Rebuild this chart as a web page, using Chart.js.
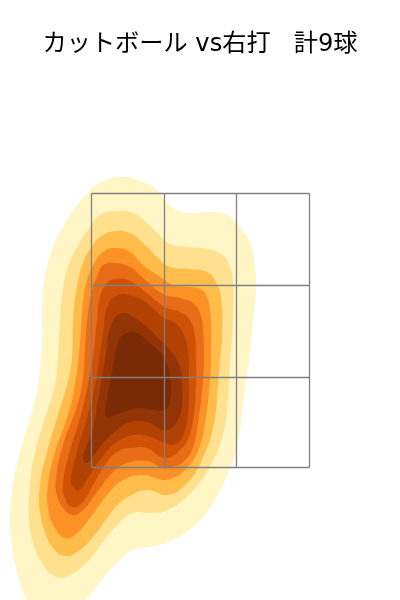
<!DOCTYPE html>
<html>
<head>
<meta charset="utf-8">
<style>html,body{margin:0;padding:0;background:#fff}canvas{display:block}</style>
<script src="https://cdn.jsdelivr.net/npm/chart.js@4"></script>
</head>
<body>
<canvas id="c" width="400" height="600"></canvas>
<script>
const titleText = 'カットボール vs右打   計9球';
const gridX = [91.5,164.5,236.5,309.5];
const gridY = [193.5,285.5,377.5,467.5];
const levelColors = ['#fff5c5','#fee08e','#febc4b','#fc9126','#e96c16','#d05207','#b24204','#933406','#7a2a04'];
const level1 = [[122,177],[143,182],[157,190],[173,208],[190,213],[210,212],[227,215],[240,227],[250,243],[255,267],[256,290],[253,320],[250,353],[246,380],[242,413],[237,447],[228,473],[215,500],[197,523],[173,540],[150,547],[133,550],[117,563],[100,582],[85,600],[72,614],[40,614],[27,600],[20,582],[13,552],[10,518],[13,485],[20,452],[30,418],[38,385],[42,337],[42,303],[45,277],[53,247],[67,220],[83,198],[100,183]];
const level2 = [[117,211],[133,213],[147,223],[160,236],[170,244],[187,247],[207,249],[222,255],[230,267],[233,283],[233,310],[232,337],[230,365],[228,397],[224,430],[212,463],[193,490],[168,510],[150,513],[133,513],[117,525],[103,542],[87,562],[70,575],[57,577],[43,565],[33,542],[29,518],[30,485],[35,452],[45,418],[55,385],[58,357],[60,320],[62,297],[67,270],[77,247],[90,227],[100,215]];
const level3 = [[117,231],[130,233],[143,243],[158,258],[170,267],[190,269],[207,272],[215,280],[221,297],[222,337],[220,360],[218,385],[214,423],[202,460],[187,483],[168,495],[147,490],[128,497],[113,510],[97,532],[80,550],[65,556],[53,548],[45,532],[40,512],[40,485],[47,452],[57,418],[67,385],[72,357],[73,320],[77,287],[83,263],[93,245],[103,235]];
const level4 = [[115,248],[130,252],[143,265],[162,278],[173,285],[190,287],[202,290],[208,300],[211,320],[211,350],[210,380],[205,423],[197,453],[183,472],[173,478],[163,480],[143,475],[123,480],[107,495],[90,518],[75,535],[65,538],[55,528],[48,508],[48,485],[55,452],[67,418],[75,385],[80,343],[83,303],[88,277],[95,262],[103,252]];
const level5 = [[115,263],[130,267],[143,278],[163,294],[180,298],[193,303],[200,313],[203,330],[204,355],[203,380],[198,423],[192,450],[182,463],[172,467],[163,468],[147,461],[127,463],[113,472],[97,492],[83,510],[73,515],[63,508],[57,495],[56,478],[63,445],[75,412],[82,385],[85,350],[88,313],[93,287],[97,277],[103,265]];
const level6 = [[115,279],[128,280],[143,290],[165,307],[180,312],[190,320],[195,337],[196,360],[196,385],[193,420],[187,442],[180,450],[173,456],[163,458],[147,448],[130,448],[120,450],[107,462],[93,485],[82,503],[72,507],[65,498],[63,485],[68,458],[80,418],[88,385],[93,357],[97,320],[100,297],[107,283]];
const level7 = [[118,295],[133,296],[147,303],[163,317],[175,323],[183,333],[188,350],[189,380],[188,413],[182,438],[173,445],[165,443],[147,436],[133,435],[117,442],[103,456],[88,478],[79,490],[73,487],[71,478],[77,452],[87,418],[95,385],[98,367],[103,333],[108,305]];
const level8 = [[123,313],[133,317],[147,327],[157,337],[170,350],[180,367],[182,385],[182,407],[180,415],[173,427],[163,430],[147,422],[130,422],[117,430],[103,443],[92,458],[87,463],[83,457],[87,445],[92,433],[98,400],[105,360],[112,323]];
const level9 = [[130,332],[137,333],[150,343],[165,360],[171,383],[170,400],[168,407],[162,411],[140,408],[123,412],[110,417],[106,415],[107,400],[113,367],[120,338]];
const levels = [level1,level2,level3,level4,level5,level6,level7,level8,level9];

const toPts = a => [a[a.length-1]].concat(a, a.slice(0,2)).map(p => ({x:p[0], y:p[1]}));
const gridStyle = {showLine:true, fill:false, tension:0, borderColor:'#808080', borderWidth:1.3, pointRadius:0};
const datasets = [];
gridX.forEach(x => datasets.push({...gridStyle, data:[{x, y:gridY[0]},{x, y:gridY[3]}]}));
gridY.forEach(y => datasets.push({...gridStyle, data:[{x:gridX[0], y},{x:gridX[3], y}]}));
for (let i = levels.length-1; i >= 0; i--) {
  datasets.push({
    data: toPts(levels[i]), showLine:true, fill:'shape', tension:0.45,
    backgroundColor: levelColors[i], borderColor: levelColors[i], borderWidth:0, pointRadius:0
  });
}
new Chart(document.getElementById('c'), {
  type:'scatter',
  data:{datasets},
  options:{
    responsive:false, animation:false, events:[],
    layout:{padding:0, autoPadding:false},
    scales:{
      x:{type:'linear', min:0, max:400, display:false},
      y:{type:'linear', min:70, max:600, reverse:true, display:false}
    },
    plugins:{
      legend:{display:false}, tooltip:{enabled:false},
      title:{display:true, text:titleText, color:'#000',
        font:{family:'"DejaVu Sans","Noto Sans CJK JP"', size:24.2, weight:'normal', lineHeight:1.25},
        padding:{top:29.75, bottom:10}}
    }
  }
});
</script>
</body>
</html>
